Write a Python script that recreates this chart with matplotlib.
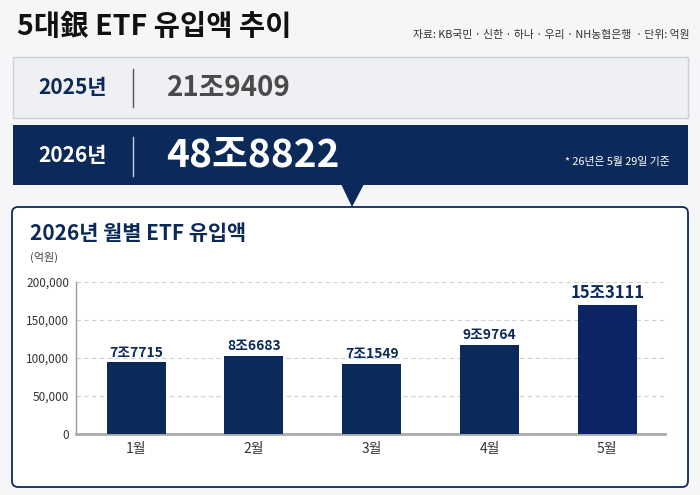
import numpy as np
import matplotlib.pyplot as plt
from matplotlib.patches import Rectangle, FancyBboxPatch, Polygon

plt.rcParams['font.family'] = ['Noto Sans CJK KR', 'DejaVu Sans']

# data
months = ['1월', '2월', '3월', '4월', '5월']
inflow = [94200, 102400, 92300, 117300, 170300]   # bar heights as drawn (억원)
inflow_labels = ['7조7715', '8조6683', '7조1549', '9조9764', '15조3111']
yticks = [0, 50000, 100000, 150000, 200000]

total_2025 = '21조9409'
total_2026 = '48조8822'

NAVY = '#0b2a5a'

fig = plt.figure(figsize=(7, 4.95), dpi=100)
fig.patch.set_facecolor('#f6f6f8')

# background layer in pixel coordinates
bg = fig.add_axes([0, 0, 1, 1])
bg.set_xlim(0, 700)
bg.set_ylim(495, 0)
bg.axis('off')

bg.add_patch(Rectangle((13, 57), 675, 61, fc='#eef0f4', ec='#cdd0d6', lw=1))
bg.add_patch(Rectangle((13, 125), 675, 60, fc=NAVY, ec='none'))
bg.add_patch(FancyBboxPatch((12, 207), 676, 280, boxstyle='round,pad=0,rounding_size=6',
                            fc='white', ec=NAVY, lw=1.3))
bg.add_patch(Polygon([(341, 184), (364, 184), (352, 207)], closed=True, fc=NAVY, ec='none'))

bg.text(17, 27, '5대銀 ETF 유입액 추이', fontsize=20.5, fontweight='bold', color='#111111', va='center')
bg.text(690, 35, '자료: KB국민 · 신한 · 하나 · 우리 · NH농협은행  · 단위: 억원',
        fontsize=7.8, color='#333333', ha='right', va='center')

bg.text(38, 88, '2025년', fontsize=15, fontweight='bold', color=NAVY, va='center')
bg.plot([133, 133], [69, 107], color='#555555', lw=1)
bg.text(167, 88, total_2025, fontsize=20, fontweight='bold', color='#4a4a4a', va='center')

bg.text(38, 156, '2026년', fontsize=15, fontweight='bold', color='white', va='center')
bg.plot([133, 133], [137, 176], color='#c8cfdc', lw=1)
bg.text(166, 155, total_2026, fontsize=28, fontweight='bold', color='white', va='center')
bg.text(670, 162, '* 26년은 5월 29일 기준', fontsize=7.8, color='white', ha='right', va='center')

bg.text(30, 234, '2026년 월별 ETF 유입액', fontsize=15, fontweight='bold', color=NAVY, va='center')
bg.text(30, 257, '(억원)', fontsize=8, color='#444444', va='center')

# bar chart
ax = fig.add_axes([76 / 700, 61 / 495, 589 / 700, 152 / 495])
ax.patch.set_alpha(0)
x = np.arange(len(months))
colors = [NAVY] * 4 + ['#0a2466']
ax.bar(x, inflow, width=0.5, color=colors, zorder=3)

for i, lbl in enumerate(inflow_labels):
    ax.annotate(lbl, (x[i], inflow[i]), xytext=(0, 2), textcoords='offset points',
                ha='center', va='bottom', fontsize=12 if i == 4 else 10,
                fontweight='bold', color=NAVY)

ax.set_xlim(-0.51, 4.49)
ax.set_ylim(0, 200000)
ax.set_xticks(x)
ax.set_xticklabels(months)
ax.set_yticks(yticks)
ax.set_yticklabels([f'{v:,}' for v in yticks])
ax.yaxis.grid(True, ls=(0, (4, 3)), color='#cfcfcf', lw=0.8)
ax.set_axisbelow(True)
ax.tick_params(axis='y', length=0, pad=5, labelsize=8.5, labelcolor='#333333')
ax.tick_params(axis='x', length=0, pad=6, labelsize=10, labelcolor='#333333')
for s in ['top', 'right']:
    ax.spines[s].set_visible(False)
ax.spines['left'].set_color('#999999')
ax.spines['left'].set_linewidth(1)
ax.spines['bottom'].set_color('#aaaaaa')
ax.spines['bottom'].set_linewidth(2)

fig.savefig('out.png', dpi=100, facecolor=fig.get_facecolor())
